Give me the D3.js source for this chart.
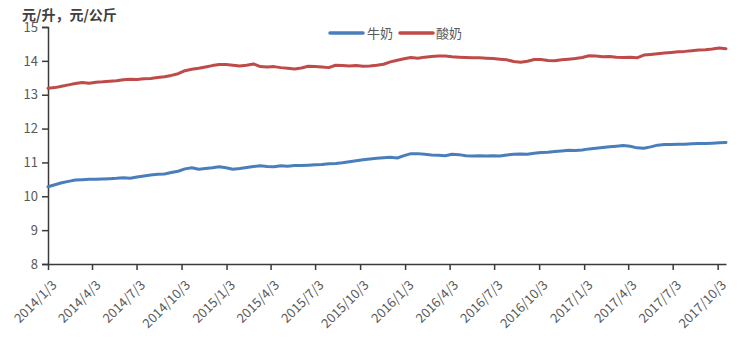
<!DOCTYPE html>
<html>
<head>
<meta charset="utf-8">
<script src="https://cdn.jsdelivr.net/npm/d3@7/dist/d3.min.js"></script>
<style>
  html, body { margin: 0; padding: 0; background: #fff; }
  svg { display: block; }
</style>
</head>
<body>
<svg id="chart" width="745" height="339"></svg>
<script>
// ---- data ----
const startDate = "2014-01-03";   // first observation
const stepDays = 14;              // spacing of observations
const unitLabel = "元/升，元/公斤";
const seriesNames = ["牛奶", "酸奶"];
const milk = [
  10.28,10.34,10.40,10.44,10.48,10.49,10.50,10.50,10.51,10.52,
  10.53,10.55,10.53,10.57,10.60,10.63,10.65,10.66,10.70,10.74,
  10.81,10.84,10.80,10.82,10.84,10.87,10.84,10.80,10.82,10.85,
  10.88,10.90,10.88,10.87,10.90,10.89,10.91,10.91,10.92,10.93,
  10.94,10.96,10.97,10.99,11.02,11.05,11.08,11.10,11.12,11.14,
  11.15,11.13,11.20,11.26,11.26,11.24,11.22,11.21,11.20,11.24,
  11.23,11.20,11.19,11.20,11.19,11.20,11.19,11.22,11.24,11.25,
  11.24,11.27,11.29,11.30,11.32,11.34,11.36,11.35,11.37,11.40,
  11.42,11.44,11.46,11.48,11.50,11.48,11.43,11.42,11.46,11.51,
  11.53,11.53,11.54,11.54,11.55,11.56,11.56,11.57,11.58,11.59
];
const yogurt = [
  13.19,13.21,13.25,13.29,13.33,13.36,13.34,13.37,13.38,13.40,
  13.41,13.44,13.46,13.45,13.47,13.48,13.51,13.53,13.57,13.62,
  13.71,13.75,13.78,13.82,13.86,13.89,13.89,13.87,13.85,13.87,
  13.91,13.83,13.82,13.83,13.80,13.78,13.76,13.79,13.84,13.83,
  13.82,13.80,13.87,13.86,13.85,13.86,13.84,13.85,13.87,13.90,
  13.97,14.02,14.06,14.10,14.08,14.11,14.13,14.14,14.14,14.12,
  14.11,14.10,14.09,14.09,14.08,14.07,14.05,14.03,13.98,13.96,
  13.99,14.04,14.04,14.01,14.00,14.03,14.05,14.07,14.10,14.15,
  14.14,14.12,14.13,14.11,14.10,14.11,14.09,14.17,14.19,14.21,
  14.23,14.25,14.27,14.28,14.30,14.32,14.33,14.35,14.38,14.36
];
const xTickLabels = ["2014/1/3","2014/4/3","2014/7/3","2014/10/3","2015/1/3","2015/4/3",
  "2015/7/3","2015/10/3","2016/1/3","2016/4/3","2016/7/3","2016/10/3",
  "2017/1/3","2017/4/3","2017/7/3","2017/10/3"];
const yTicks = [8, 9, 10, 11, 12, 13, 14, 15];
const colors = ["#4a7ebb", "#be4b48"];

(function () {
// ---- build ----
const parse = d3.timeParse("%Y-%m-%d");
const parseTick = d3.timeParse("%Y/%m/%d");
const t0 = parse(startDate);
const dates = milk.map((_, i) => d3.timeDay.offset(t0, i * stepDays));
const series = [milk, yogurt].map((vals, k) => ({
  name: seriesNames[k], color: colors[k],
  pts: vals.map((v, i) => ({ date: dates[i], v }))
}));

const svg = d3.select("#chart");
const mLeft = 48, mRight = 726, mTop = 27, mBottom = 264;

const x = d3.scaleTime().domain([dates[0], dates[dates.length - 1]]).range([mLeft, mRight]);
const y = d3.scaleLinear().domain([8, 15]).range([mBottom, mTop]);

const axisColor = "#3a3a3a";
const textColor = "#595959";
const font = "'Noto Sans CJK SC', 'DejaVu Sans', sans-serif";

// y axis
const gy = svg.append("g").attr("transform", `translate(${mLeft},0)`)
  .call(d3.axisLeft(y).tickValues(yTicks).tickSize(6).tickPadding(4).tickFormat(d3.format("d")));
gy.select(".domain").attr("stroke", axisColor).attr("stroke-width", 1.5);
gy.selectAll(".tick line").attr("stroke", axisColor).attr("stroke-width", 1.5);
gy.selectAll(".tick text").attr("fill", textColor).style("font-family", font).style("font-size", "13px");

// x axis
const tickDates = xTickLabels.map(s => parseTick(s));
const gx = svg.append("g").attr("transform", `translate(0,${mBottom})`)
  .call(d3.axisBottom(x).tickValues(tickDates).tickSize(6).tickSizeOuter(0)
    .tickFormat((d, i) => xTickLabels[i]));
gx.select(".domain").attr("stroke", axisColor).attr("stroke-width", 1.5);
gx.selectAll(".tick line").attr("stroke", axisColor).attr("stroke-width", 1.5);
gx.selectAll(".tick text")
  .attr("fill", textColor).style("font-family", font).style("font-size", "13px")
  .attr("text-anchor", "end")
  .attr("dy", null).attr("y", null)
  .attr("transform", "translate(9,22) rotate(-45)");

// lines
const line = d3.line().x(d => x(d.date)).y(d => y(d.v));
series.forEach(s => {
  svg.append("path").datum(s.pts)
    .attr("fill", "none").attr("stroke", s.color)
    .attr("stroke-width", 3).attr("stroke-linejoin", "round").attr("stroke-linecap", "round")
    .attr("d", line);
});

// unit label
svg.append("text").attr("x", 22).attr("y", 20)
  .attr("fill", "#404040").style("font-family", font).style("font-size", "14px").style("font-weight", "bold")
  .text(unitLabel);

// legend
const legendPos = [{ lx: 330, tx: 367 }, { lx: 400, tx: 436 }];
series.forEach((s, k) => {
  const g = svg.append("g");
  g.append("line").attr("x1", legendPos[k].lx).attr("x2", legendPos[k].lx + 33)
    .attr("y1", 33).attr("y2", 33).attr("stroke", s.color).attr("stroke-width", 3.5)
    .attr("stroke-linecap", "round");
  g.append("text").attr("x", legendPos[k].tx).attr("y", 38)
    .attr("fill", textColor).style("font-family", font).style("font-size", "13px")
    .text(s.name);
});
})();
</script>
</body>
</html>
